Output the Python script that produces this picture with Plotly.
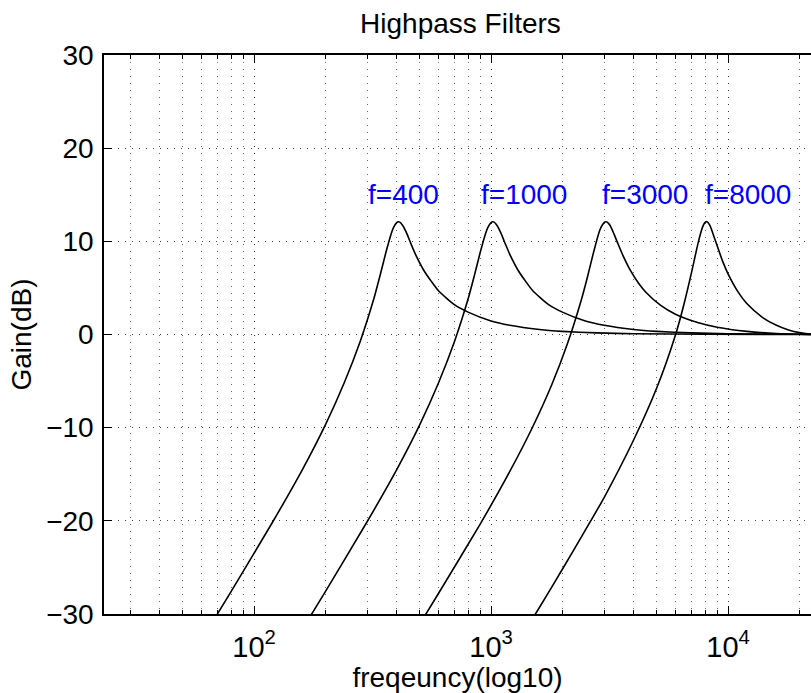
import math
import plotly.graph_objects as go

# ---- data ----
freq_400 = [60, 80, 120, 160, 200, 240, 280, 320, 340, 360, 380, 388, 400, 406, 412, 424,
            440, 460, 480, 520, 560, 600, 700, 800, 1000, 1200, 1600, 2000, 2800, 4000, 8000, 24000]
gain_400 = [-32.8, -27.6, -20.1, -14.5, -9.7, -5.2, -0.8, 3.8, 6.3, 8.8, 10.9, 11.5, 12.0, 12.1, 12.06, 11.7,
            10.9, 9.7, 8.6, 6.9, 5.7, 4.7, 3.2, 2.4, 1.45, 0.99, 0.54, 0.34, 0.17, 0.085, 0.02, 0.0]

freq_1000 = [150, 200, 300, 400, 500, 600, 700, 800, 850, 900, 950, 970, 1000, 1016, 1030, 1060,
             1100, 1150, 1200, 1300, 1400, 1500, 1750, 2000, 2500, 3000, 4000, 5000, 7000, 10000, 20000, 24000]
gain_1000 = [-32.8, -27.6, -20.1, -14.5, -9.7, -5.2, -0.8, 3.8, 6.3, 8.8, 10.9, 11.5, 12.0, 12.1, 12.06, 11.7,
             10.9, 9.7, 8.6, 6.9, 5.7, 4.7, 3.2, 2.4, 1.45, 0.99, 0.54, 0.34, 0.17, 0.085, 0.02, 0.0]

freq_3000 = [450, 600, 900, 1200, 1500, 1800, 2100, 2400, 2550, 2700, 2850, 2910, 3000, 3047, 3090, 3180,
             3300, 3450, 3600, 3900, 4200, 4500, 5200, 6000, 7500, 9000, 12000, 16000, 20000, 24000]
gain_3000 = [-33.0, -27.8, -20.35, -14.7, -9.9, -5.45, -1.0, 3.65, 6.15, 8.7, 10.9, 11.5, 12.0, 12.1, 12.06, 11.7,
             10.8, 9.6, 8.5, 6.74, 5.47, 4.54, 3.12, 2.17, 1.25, 0.78, 0.34, 0.11, 0.025, 0.0]

freq_8000 = [1400, 1600, 2000, 2500, 3000, 4000, 5000, 6000, 6500, 7000, 7500, 7800, 8000, 8150, 8400,
             8800, 9500, 10000, 11000, 12000, 14000, 16000, 18000, 20000, 22000, 24000]
gain_8000 = [-31.7, -29.3, -25.2, -21.0, -17.5, -11.3, -5.75, -0.05, 3.14, 6.56, 9.97, 11.5, 12.04, 12.11, 11.67,
             10.22, 7.82, 6.51, 4.60, 3.32, 1.82, 0.99, 0.49, 0.20, 0.05, 0.0]

series = [(freq_400, gain_400), (freq_1000, gain_1000), (freq_3000, gain_3000), (freq_8000, gain_8000)]

label_texts = ["f=400", "f=1000", "f=3000", "f=8000"]
label_freqs = [300, 897, 2910, 7925]
label_gain = 15

x_major_ticks = [100, 1000, 10000]
x_major_text = ["10<sup>2</sup>", "10<sup>3</sup>", "10<sup>4</sup>"]
x_minor_ticks = [30, 40, 50, 60, 70, 80, 90,
                 200, 300, 400, 500, 600, 700, 800, 900,
                 2000, 3000, 4000, 5000, 6000, 7000, 8000, 9000,
                 20000]
y_ticks = [-30, -20, -10, 0, 10, 20, 30]

FONT = "Liberation Sans, Arial, Helvetica, sans-serif"
FS = 28

fig = go.Figure()
for fx, gy in series:
    fig.add_trace(go.Scatter(x=fx, y=gy, mode="lines",
                             line=dict(color="black", width=1.6, shape="spline", smoothing=0.6),
                             showlegend=False, hoverinfo="skip"))

for txt, lf in zip(label_texts, label_freqs):
    fig.add_annotation(x=math.log10(lf), y=label_gain, xref="x", yref="y", text=txt,
                       showarrow=False, xanchor="left", yanchor="middle",
                       font=dict(family=FONT, size=FS, color="#0000FF"), borderpad=0)

fig.update_layout(
    width=811, height=693,
    margin=dict(l=104, r=0, t=55, b=79, autoexpand=False),
    paper_bgcolor="white", plot_bgcolor="white",
    font=dict(family=FONT, size=FS, color="black"),
    title=dict(text="Highpass Filters", x=0.5042, xref="paper", xanchor="center",
               y=1 - 23 / 693, yref="container", yanchor="middle",
               font=dict(family=FONT, size=FS, color="black")),
)

fig.update_xaxes(
    type="log", range=[1.367, 4.350],
    tickmode="array", tickvals=x_major_ticks, ticktext=x_major_text,
    ticks="inside", ticklen=8, tickwidth=1, tickcolor="black",
    showline=True, linecolor="black", linewidth=1.5, mirror="ticks",
    showgrid=True, gridcolor="#333", gridwidth=1, griddash="1px,6px",
    minor=dict(tickmode="array", tickvals=x_minor_ticks, ticks="inside", ticklen=4,
               tickcolor="black", tickwidth=1,
               showgrid=True, gridcolor="#666", gridwidth=1, griddash="1px,6px"),
    zeroline=False,
    tickfont=dict(family=FONT, size=29, color="black"),
    ticklabelstandoff=6,
    title=dict(text="freqeuncy(log10)", standoff=4, font=dict(family=FONT, size=FS, color="black")),
    automargin=False,
)
fig.update_yaxes(
    range=[-30, 30], tickmode="array", tickvals=y_ticks,
    ticks="inside", ticklen=8, tickwidth=1, tickcolor="black",
    showline=True, linecolor="black", linewidth=1.5, mirror=False,
    showgrid=True, gridcolor="#444", gridwidth=1, griddash="1px,6px",
    zeroline=False,
    tickfont=dict(family=FONT, size=FS, color="black"),
    ticklabelstandoff=3,
    title=dict(text="Gain(dB)", standoff=6, font=dict(family=FONT, size=FS, color="black")),
    automargin=False,
)

fig.write_html("out.html")
